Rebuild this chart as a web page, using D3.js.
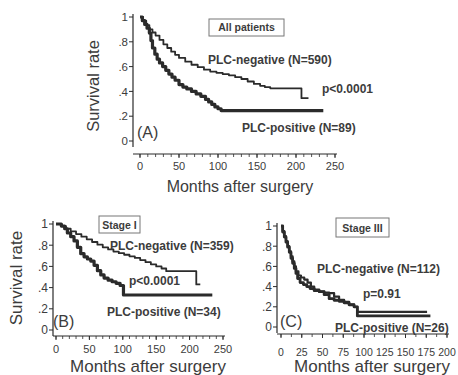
<!DOCTYPE html>
<html><head><meta charset="utf-8">
<script src="https://cdn.jsdelivr.net/npm/d3@7/dist/d3.min.js"></script>
<style>
body{margin:0;background:#fff;}
svg{display:block;font-family:"Liberation Sans",Arial,sans-serif;}
</style></head>
<body><svg id="c" width="458" height="375"></svg>
<script>
// ---- data ----
const monthTicksAB = [0,50,100,150,200,250];
const monthTicksC = [0,25,50,75,100,125,150,175,200];
const survTicks = [0,0.2,0.4,0.6,0.8,1];
const survTickLabels = ["0",".2",".4",".6",".8","1"];

const aNegMonths = [0,4,8,12,16,20,25,30,35,40,45,50,58,66,74,82,90,98,106,114,122,130,138,146,154,160,167,207,216];
const aNegSurv   = [1,0.97,0.935,0.9,0.875,0.85,0.815,0.78,0.75,0.72,0.695,0.67,0.64,0.615,0.595,0.575,0.56,0.55,0.54,0.53,0.515,0.5,0.48,0.46,0.445,0.435,0.425,0.345,0.345];
const aPosMonths = [0,3,6,9,12,14,16,19,22,25,29,33,37,41,45,50,55,60,66,72,78,84,88,92,96,100,104,235];
const aPosSurv   = [1,0.97,0.94,0.91,0.87,0.81,0.75,0.7,0.66,0.63,0.6,0.57,0.54,0.515,0.49,0.455,0.435,0.42,0.4,0.38,0.36,0.335,0.315,0.295,0.275,0.26,0.245,0.245];

const bNegMonths = [0,8,15,22,30,38,46,54,62,70,78,86,94,102,110,118,126,134,142,150,158,165,210,216];
const bNegSurv   = [1,0.98,0.955,0.93,0.905,0.88,0.855,0.83,0.805,0.78,0.76,0.74,0.725,0.71,0.695,0.68,0.66,0.64,0.62,0.6,0.58,0.555,0.43,0.43];
const bPosMonths = [0,8,13,17,22,27,32,37,42,47,52,57,62,67,72,78,84,90,96,101,234];
const bPosSurv   = [1,0.98,0.955,0.915,0.88,0.84,0.78,0.72,0.69,0.67,0.65,0.61,0.56,0.52,0.49,0.47,0.455,0.44,0.42,0.33,0.33];

const cNegMonths = [0,2,4,6,8,10,12,14,16,18,21,24,28,32,36,40,46,52,58,64,70,76,82,88,92,176];
const cNegSurv   = [1,0.95,0.9,0.85,0.8,0.75,0.7,0.65,0.6,0.55,0.51,0.49,0.47,0.44,0.4,0.37,0.35,0.34,0.335,0.3,0.27,0.25,0.225,0.2,0.15,0.15];
const cPosMonths = [0,2,4,6,8,10,12,14,16,18,20,23,27,31,35,40,46,52,58,64,70,76,82,88,92,180];
const cPosSurv   = [1,0.94,0.89,0.84,0.79,0.74,0.68,0.63,0.58,0.53,0.48,0.44,0.42,0.4,0.38,0.36,0.35,0.32,0.28,0.265,0.255,0.24,0.22,0.2,0.11,0.11];

const panelTitles = ["All patients","Stage I","Stage III"];
const panelLetters = ["(A)","(B)","(C)"];
const negLabels = ["PLC-negative (N=590)","PLC-negative (N=359)","PLC-negative (N=112)"];
const posLabels = ["PLC-positive (N=89)","PLC-positive (N=34)","PLC-positive (N=26)"];
const pLabels = ["p<0.0001","p<0.0001","p=0.91"];

// ---- drawing ----
const svg = d3.select("#c");
const LINE = "#2b2b2b", TXT = "#3c3c3c";

const panels = [
  {xr:[140,335], yr:[141,17], yAxisX:133, xAxisY:154, xmax:250, ticks:monthTicksAB, minor:10,
   neg:[aNegMonths,aNegSurv], pos:[aPosMonths,aPosSurv], ytitle:[93,86,16.5], xtitle:[240,192,16],
   box:[209,19,75,17], boxText:[246.5,31], negL:[208,64], posL:[242,132], pL:[322,93], letter:[137,138],
   tickFs:11, ytickFs:11.5, xtickY:170, negW:1.8, posW:3.2},
  {xr:[56,223], yr:[330,224], yAxisX:53, xAxisY:336, xmax:250, ticks:monthTicksAB, minor:10,
   neg:[bNegMonths,bNegSurv], pos:[bPosMonths,bPosSurv], ytitle:[16,278,17], xtitle:[148,372,17],
   box:[99,216,41,17], boxText:[119.5,228.5], negL:[110,250], posL:[107,316], pL:[129,285], letter:[53,327],
   tickFs:11, ytickFs:12, xtickY:353, negW:1.8, posW:3.2},
  {xr:[281,447], yr:[327,226], yAxisX:277, xAxisY:334, xmax:200, ticks:monthTicksC, minor:12.5,
   neg:[cNegMonths,cNegSurv], pos:[cPosMonths,cPosSurv], ytitle:null, xtitle:[372,372,17],
   box:[336,218,53,19], boxText:[362.5,231.5], negL:[317,273], posL:[335,332], pL:[363,298], letter:[280,327],
   tickFs:10.5, ytickFs:12, xtickY:356, negW:2.2, posW:2.8}
];

panels.forEach((p,i)=>{
  const g = svg.append("g");
  const x = d3.scaleLinear().domain([0,p.xmax]).range(p.xr);
  const y = d3.scaleLinear().domain([0,1]).range(p.yr);

  // y axis
  g.append("line").attr("x1",p.yAxisX).attr("x2",p.yAxisX)
    .attr("y1",y(1)-3).attr("y2",y(0)+6).attr("stroke",LINE).attr("stroke-width",1.2);
  survTicks.forEach((t,k)=>{
    g.append("line").attr("x1",p.yAxisX-4).attr("x2",p.yAxisX).attr("y1",y(t)).attr("y2",y(t))
      .attr("stroke",LINE).attr("stroke-width",1);
    g.append("text").attr("x",p.yAxisX-5).attr("y",y(t)).attr("dy","0.36em")
      .attr("text-anchor","end").attr("font-size",p.ytickFs).attr("fill",TXT).text(survTickLabels[k]);
  });
  // x axis
  g.append("line").attr("x1",p.yAxisX).attr("x2",x(p.xmax)+2)
    .attr("y1",p.xAxisY).attr("y2",p.xAxisY).attr("stroke",LINE).attr("stroke-width",1.2);
  d3.range(0,p.xmax+0.001,p.minor).forEach(m=>{
    g.append("line").attr("x1",x(m)).attr("x2",x(m)).attr("y1",p.xAxisY).attr("y2",p.xAxisY+3)
      .attr("stroke",LINE).attr("stroke-width",0.8);
  });
  p.ticks.forEach(t=>{
    g.append("line").attr("x1",x(t)).attr("x2",x(t)).attr("y1",p.xAxisY).attr("y2",p.xAxisY+4)
      .attr("stroke",LINE).attr("stroke-width",1);
    g.append("text").attr("x",x(t)).attr("y",p.xtickY).attr("text-anchor","middle")
      .attr("font-size",p.tickFs).attr("fill",TXT).text(t);
  });
  // titles
  g.append("text").attr("x",p.xtitle[0]).attr("y",p.xtitle[1]).attr("text-anchor","middle")
    .attr("font-size",p.xtitle[2]).attr("fill",TXT).text("Months after surgery");
  if(p.ytitle){
    g.append("text").attr("transform",`translate(${p.ytitle[0]},${p.ytitle[1]}) rotate(-90)`)
      .attr("text-anchor","middle").attr("dy","0.35em").attr("font-size",p.ytitle[2])
      .attr("fill",TXT).text("Survival rate");
  }
  // curves
  const line = d3.line().x(d=>x(d[0])).y(d=>y(d[1])).curve(d3.curveStepAfter);
  const negData = p.neg[0].map((m,k)=>[m,p.neg[1][k]]);
  const posData = p.pos[0].map((m,k)=>[m,p.pos[1][k]]);
  g.append("path").attr("d",line(posData)).attr("fill","none").attr("stroke",LINE)
    .attr("stroke-width",p.posW).attr("stroke-linejoin","round");
  g.append("path").attr("d",line(negData)).attr("fill","none").attr("stroke",LINE)
    .attr("stroke-width",p.negW).attr("stroke-linejoin","round");

  // box label
  g.append("rect").attr("x",p.box[0]).attr("y",p.box[1]).attr("width",p.box[2]).attr("height",p.box[3])
    .attr("fill","#fff").attr("stroke","#777").attr("stroke-width",1);
  g.append("text").attr("x",p.boxText[0]).attr("y",p.boxText[1]).attr("text-anchor","middle")
    .attr("font-size",10.5).attr("font-weight","bold").attr("fill",TXT).text(panelTitles[i]);
  // annotations
  const bold = (pos,txt)=>g.append("text").attr("x",pos[0]).attr("y",pos[1]).attr("font-size",12)
    .attr("font-weight","bold").attr("fill",TXT).text(txt);
  bold(p.negL,negLabels[i]);
  bold(p.posL,posLabels[i]);
  bold(p.pL,pLabels[i]);
  g.append("text").attr("x",p.letter[0]).attr("y",p.letter[1]).attr("font-size",16)
    .attr("fill",TXT).text(panelLetters[i]);
});
</script></body></html>
